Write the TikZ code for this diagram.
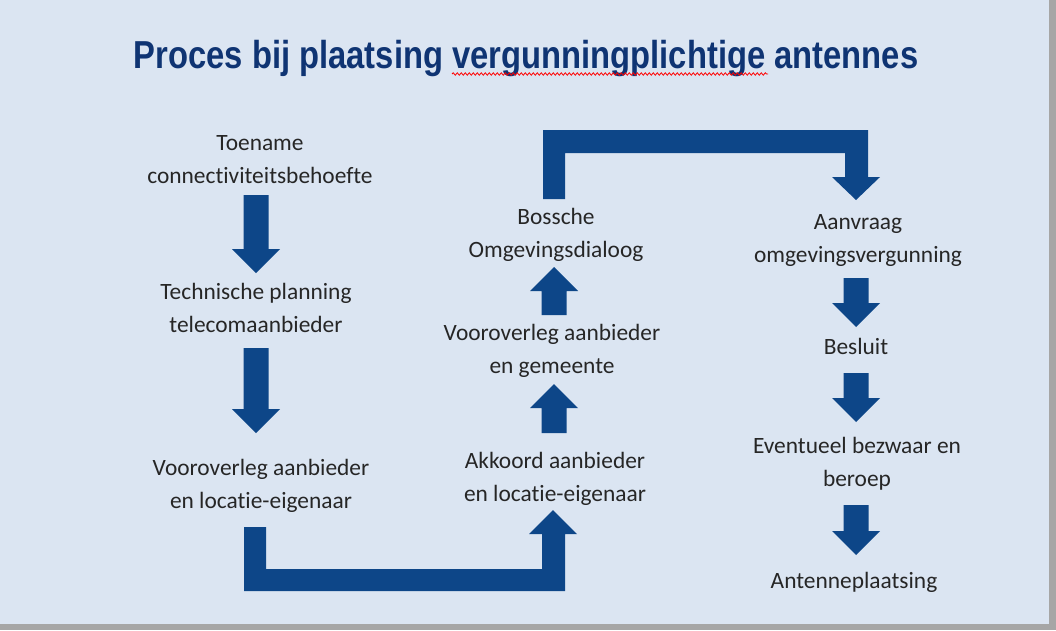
\documentclass[tikz,border=0pt]{standalone}
\usepackage{fontspec}
\usepackage{graphicx}
\setmainfont{Carlito}[Ligatures=NoCommon]
\newfontfamily\titlefont{Liberation Sans}
\usetikzlibrary{calc}
\usetikzlibrary{decorations.pathmorphing}
\definecolor{paleblue}{HTML}{DBE5F2}
\definecolor{arrowblue}{HTML}{0D4688}
\definecolor{titleblue}{HTML}{0F3473}
\definecolor{framegray}{HTML}{A6A6A6}
\def\ShaftHalf{12.5}
\def\HeadHalf{24}
\def\HeadLength{24}
\def\TitleStretch{0.84}
% straight block arrow from #1 (tail) to #2 (tip), vertical
\newcommand{\blockarrow}[2]{%
  \path ($(#2)!\HeadLength pt!(#1)$) coordinate (hb);
  \fill[arrowblue] ($(#1)+(-\ShaftHalf,0)$) -- ($(hb)+(-\ShaftHalf,0)$)
    -- ($(hb)+(-\HeadHalf,0)$) -- (#2) -- ($(hb)+(\HeadHalf,0)$)
    -- ($(hb)+(\ShaftHalf,0)$) -- ($(#1)+(\ShaftHalf,0)$) -- cycle;
}

\begin{document}
\begin{tikzpicture}[x=1pt,y=-1pt,
  lbl/.style={align=center, inner sep=0pt, anchor=base, text=black!85,
    font=\fontsize{23.4}{33}\selectfont}]
  \useasboundingbox (0,0) rectangle (1056,630);
  % background
  \fill[framegray] (0,0) rectangle (1056,630);
  \fill[paleblue] (0,0) rectangle (1049,624);
  % title
  \node[anchor=base, text=titleblue, inner sep=0pt,
    font=\titlefont\bfseries\fontsize{39}{39}\selectfont] (title) at (526,68)
    {\scalebox{\TitleStretch}[1]{Proces bij plaatsing vergunningplichtige antennes}};
  \draw[red, line width=0.8pt, decorate,
    decoration={snake, amplitude=1.2pt, segment length=4pt}] (452,74) -- (768,74);
  % steps (base = last line)
  \node[lbl] (toename) at (260,183) {Toename\\connectiviteitsbehoefte};
  \node[lbl] (techplan) at (256,332) {Technische planning\\telecomaanbieder};
  \node[lbl] (vooreig) at (261,508) {Vooroverleg aanbieder\\en locatie-eigenaar};
  \node[lbl] (akkoord) at (555,501) {Akkoord aanbieder\\en locatie-eigenaar};
  \node[lbl] (voorgem) at (552,373) {Vooroverleg aanbieder\\en gemeente};
  \node[lbl] (bossche) at (556,257) {Bossche\\Omgevingsdialoog};
  \node[lbl] (aanvraag) at (858,262) {Aanvraag\\omgevingsvergunning};
  \node[lbl] (besluit) at (856,354) {Besluit};
  \node[lbl] (bezwaar) at (857,486) {Eventueel bezwaar en\\beroep};
  \node[lbl] (antenne) at (854,588) {Antenneplaatsing};
  % arrow ends
  \coordinate (toename-out) at (256,195);
  \coordinate (techplan-in) at (256,273);
  \coordinate (techplan-out) at (256,348);
  \coordinate (vooreig-in) at (256,433);
  \coordinate (akkoord-out) at (554,433);
  \coordinate (voorgem-in) at (554,384);
  \coordinate (voorgem-out) at (554,315);
  \coordinate (bossche-in) at (554,267);
  \coordinate (aanvraag-out) at (856,278);
  \coordinate (besluit-in) at (856,327);
  \coordinate (besluit-out) at (856,373);
  \coordinate (bezwaar-in) at (856,422);
  \coordinate (bezwaar-out) at (856,505);
  \coordinate (antenne-in) at (856,555);
  % straight arrows
  \blockarrow{toename-out}{techplan-in}
  \blockarrow{techplan-out}{vooreig-in}
  \blockarrow{akkoord-out}{voorgem-in}
  \blockarrow{voorgem-out}{bossche-in}
  \blockarrow{aanvraag-out}{besluit-in}
  \blockarrow{besluit-out}{bezwaar-in}
  \blockarrow{bezwaar-out}{antenne-in}
  % bent arrows
  \coordinate (vooreig-out) at (255,527);
  \coordinate (akkoord-in) at (553,510);
  \fill[arrowblue] ($(vooreig-out)+(-11,0)$) |- (565,591) -- (565,534)
    -- (577,534) -- (akkoord-in) -- (529,534) -- (542,534) -- (542,569)
    -| ($(vooreig-out)+(11,0)$) -- cycle;
  \coordinate (bossche-out) at (554,199);
  \coordinate (aanvraag-in) at (856,200);
  \fill[arrowblue] ($(bossche-out)+(-11,0)$) |- (868,130) -- (868,177)
    -- (880,177) -- (aanvraag-in) -- (832,177) -- (845,177) -- (845,153)
    -| ($(bossche-out)+(11,0)$) -- cycle;
\end{tikzpicture}
\end{document}
